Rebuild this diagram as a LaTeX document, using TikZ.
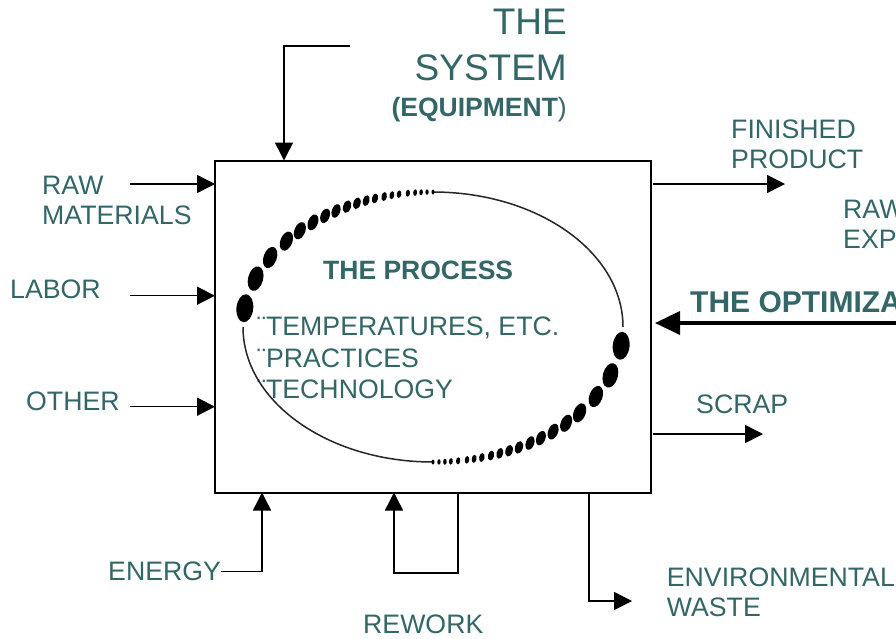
\documentclass[tikz,border=0pt]{standalone}
\usepackage{fontspec}
\setmainfont{Liberation Sans}
\usetikzlibrary{arrows.meta}
\definecolor{tealc}{RGB}{51,102,102}
\tikzset{
  lbl/.style={font=\fontsize{26.7}{30}\selectfont, text=tealc, inner sep=0pt, align=left, anchor=north west},
  arr/.style={line width=1.5pt, line join=miter, -{Triangle[length=18pt,width=18pt]}},
  bigarr/.style={line width=3.5pt, -{Triangle[length=25pt,width=23pt]}},
  sysbox/.style={draw, line width=2pt, minimum width=436pt, minimum height=332pt, inner sep=0pt, outer sep=0pt},
  thinarc/.style={line width=1.5pt, draw=black!85}
}
\begin{document}
\begin{tikzpicture}[x=1pt,y=1pt]
\useasboundingbox (0,0) rectangle (896,-638);
\clip (0,0) rectangle (896,-638);
\fill[white] (0,0) rectangle (896,-638);

% system box
\node[sysbox] (sys) at (433,-326.5) {};

% texts
\node[lbl, font=\fontsize{37}{46}\selectfont, align=right, anchor=north east] (title) at (567,-9.3) {THE\\SYSTEM};
\node[lbl, font=\fontsize{26.5}{30}\selectfont, anchor=base east] (equip) at (567,-116.7) {\textbf{(EQUIPMENT})};
\node[lbl] (raw) at (42,-175.7) {RAW\\MATERIALS};
\node[lbl] (labor) at (10,-279.7) {LABOR};
\node[lbl] (other) at (26,-391.7) {OTHER};
\node[lbl] (fin) at (731,-119.7) {FINISHED\\PRODUCT};
\node[lbl] (rawexp) at (843,-199.7) {RAW\\EXP};
\node[lbl, font=\bfseries\fontsize{30}{36}\selectfont] (opt) at (690,-291.7) {THE OPTIMIZA};
\node[lbl] (scrap) at (696,-395) {SCRAP};
\node[lbl] (env) at (666.7,-568) {ENVIRONMENTAL\\WASTE};
\node[lbl] (energy) at (108,-562) {ENERGY};
\node[lbl] (rework) at (363,-615) {REWORK};
\node[lbl, font=\bfseries\fontsize{26.5}{30}\selectfont] (proc) at (323,-261) {THE PROCESS};
\node[lbl, font=\fontsize{26.7}{31.5}\selectfont] (list) at (257,-316.7) {¨TEMPERATURES, ETC.\\¨PRACTICES\\¨TECHNOLOGY};

% coordinates
\coordinate (rawA) at (130,-184);
\coordinate (labA) at (130,-295.7);
\coordinate (othA) at (130,-406.7);
\coordinate (topA) at (350,-46);
\coordinate (topB) at (284,-46);
\coordinate (finE) at (785,-184);
\coordinate (scrE) at (763,-434);
\coordinate (optR) at (900,-323);
\coordinate (enX) at (262,-573);
\coordinate (rwR) at (458,-573);
\coordinate (rwL) at (394,-573);
\coordinate (envC) at (589,-601);
\coordinate (envE) at (632,-601);

% input arrows
\draw[arr] (rawA) -- (rawA -| sys.west);
\draw[arr] (labA) -- (labA -| sys.west);
\draw[arr] (othA) -- (othA -| sys.west);
\draw[arr] (topA) -- (topB) -- (topB |- sys.north);

% output arrows
\draw[arr] (finE -| sys.east) ++(2,0) -- (finE);
\draw[arr] (scrE -| sys.east) ++(2,0) -- (scrE);
\draw[bigarr, shorten >=4pt] (optR) -- (optR -| sys.east);

% bottom arrows
\draw[arr] (energy.east) -| (enX |- sys.south);
\draw[arr] (rwR |- sys.south) -- (rwR) -- (rwL) -- (rwL |- sys.south);
\draw[arr] (envC |- sys.south) -- (envC) -- (envE);

% process cycle (ellipse)
\draw[thinarc] (623,-327) arc[start angle=0, end angle=90, x radius=190pt, y radius=135pt];
\draw[thinarc] (243,-327) arc[start angle=180, end angle=270, x radius=190pt, y radius=135pt];
\foreach \o in {0,180}{
  \foreach \a/\h in {90/5, 91.8/5.5, 93.6/6, 95.4/6.5, 97.6/7, 100.3/7.5, 102.5/8, 104.9/9, 107.8/10, 110.6/11, 113.6/12, 116.9/13, 120.7/14, 124.6/15, 129.2/16.5, 134.5/18, 140.5/20, 149/22, 159/25, 172/28}{
    \pgfmathsetmacro\b{\a+\o}
    \pgfmathsetmacro\px{433+190*cos(\b)}
    \pgfmathsetmacro\py{-327+135*sin(\b)}
    \pgfmathsetmacro\tl{-22*sin(2*(\a-90))}
    \pgfmathsetmacro\rx{0.3*\h}
    \pgfmathsetmacro\ry{0.5*\h}
    \fill[rotate around={\tl:(\px,\py)}] (\px,\py) ellipse[x radius=\rx pt, y radius=\ry pt];
  }
}
\end{tikzpicture}
\end{document}
